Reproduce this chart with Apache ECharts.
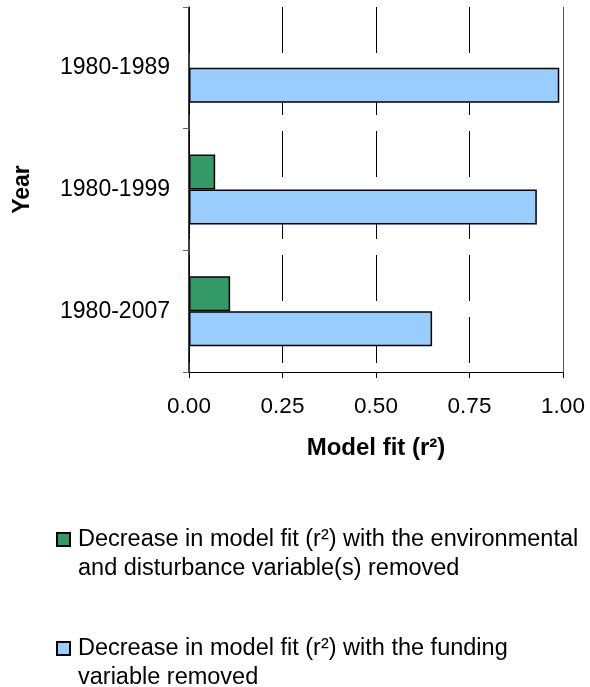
<!DOCTYPE html>
<html>
<head>
<meta charset="utf-8">
<script src="https://cdn.jsdelivr.net/npm/echarts@6/dist/echarts.min.js"></script>
<style>
  html, body { margin: 0; padding: 0; background: #fff; }
  #chart { width: 590px; height: 687px; }
</style>
</head>
<body>
<div id="chart"></div>
<script>
// Periods shown on the category axis, top to bottom
const periods = ['1980-1989', '1980-1999', '1980-2007'];
// Decrease in r² with the environmental and disturbance variable(s) removed
const envDecrease = [null, 0.07, 0.11];
// Decrease in r² with the funding variable removed
const fundingDecrease = [0.99, 0.93, 0.65];
// Value axis ticks
const xTicks = [0, 0.25, 0.5, 0.75, 1];

const envName = 'Decrease in model fit (r²) with the environmental and disturbance variable(s) removed';
const fundName = 'Decrease in model fit (r²) with the funding variable removed';
// Leading blank line keeps the first text line level with the legend swatch
const legendText = {};
legendText[envName] = '\nDecrease in model fit (r²) with the environmental\nand disturbance variable(s) removed';
legendText[fundName] = '\nDecrease in model fit (r²) with the funding\nvariable removed';

const FONT = 'Liberation Sans, Arial, sans-serif';
const chart = echarts.init(document.getElementById('chart'));

function legendFor(name, top) {
  return {
    orient: 'vertical',
    left: 56,
    top: top,
    padding: 0,
    itemWidth: 13,
    itemHeight: 13,
    icon: 'rect',
    selectedMode: false,
    data: [name],
    formatter: function (n) { return legendText[n]; },
    textStyle: { fontSize: 23.5, color: '#000', lineHeight: 29, fontFamily: FONT, padding: [0, 0, 0, 3] }
  };
}

chart.setOption({
  animation: false,
  backgroundColor: '#ffffff',
  textStyle: { fontFamily: FONT },
  grid: { left: 189, right: 27, top: 7, bottom: 315, containLabel: false },
  legend: [legendFor(envName, 496), legendFor(fundName, 605)],
  xAxis: {
    type: 'value',
    min: xTicks[0],
    max: xTicks[xTicks.length - 1],
    interval: 0.25,
    name: 'Model fit (r²)',
    nameLocation: 'middle',
    nameGap: 64,
    nameTextStyle: { fontSize: 24, fontWeight: 'bold', color: '#000', fontFamily: FONT },
    axisLine: { show: true, lineStyle: { color: '#000', width: 1 } },
    axisTick: { show: true, length: 6, lineStyle: { color: '#000' } },
    axisLabel: {
      fontSize: 22.5, color: '#000', margin: 23, fontFamily: FONT,
      formatter: function (v) { return v.toFixed(2); }
    },
    splitLine: { show: true, lineStyle: { color: '#000', width: 1, type: [46, 16] } }
  },
  yAxis: {
    type: 'category',
    data: periods,
    inverse: true,
    name: 'Year',
    nameLocation: 'middle',
    nameGap: 155,
    nameRotate: 90,
    nameTextStyle: { fontSize: 23, fontWeight: 'bold', color: '#000', fontFamily: FONT },
    axisLine: { show: true, lineStyle: { color: '#000', width: 1.5 } },
    axisTick: { show: true, length: 6, lineStyle: { color: '#666' } },
    axisLabel: { fontSize: 23, color: '#000', margin: 19, fontFamily: FONT },
    splitLine: { show: false }
  },
  series: [
    {
      name: envName,
      type: 'bar',
      data: envDecrease,
      barWidth: 35,
      barGap: '0%',
      itemStyle: { color: '#339966', borderColor: '#000', borderWidth: 1.5 }
    },
    {
      name: fundName,
      type: 'bar',
      data: fundingDecrease,
      barWidth: 35,
      barGap: '0%',
      itemStyle: { color: '#99ccff', borderColor: '#000', borderWidth: 1.5 },
      markLine: {
        silent: true,
        symbol: 'none',
        label: { show: false },
        lineStyle: { color: '#555', width: 1, type: 'solid' },
        data: [{ xAxis: 1 }]
      }
    }
  ]
});
</script>
</body>
</html>
